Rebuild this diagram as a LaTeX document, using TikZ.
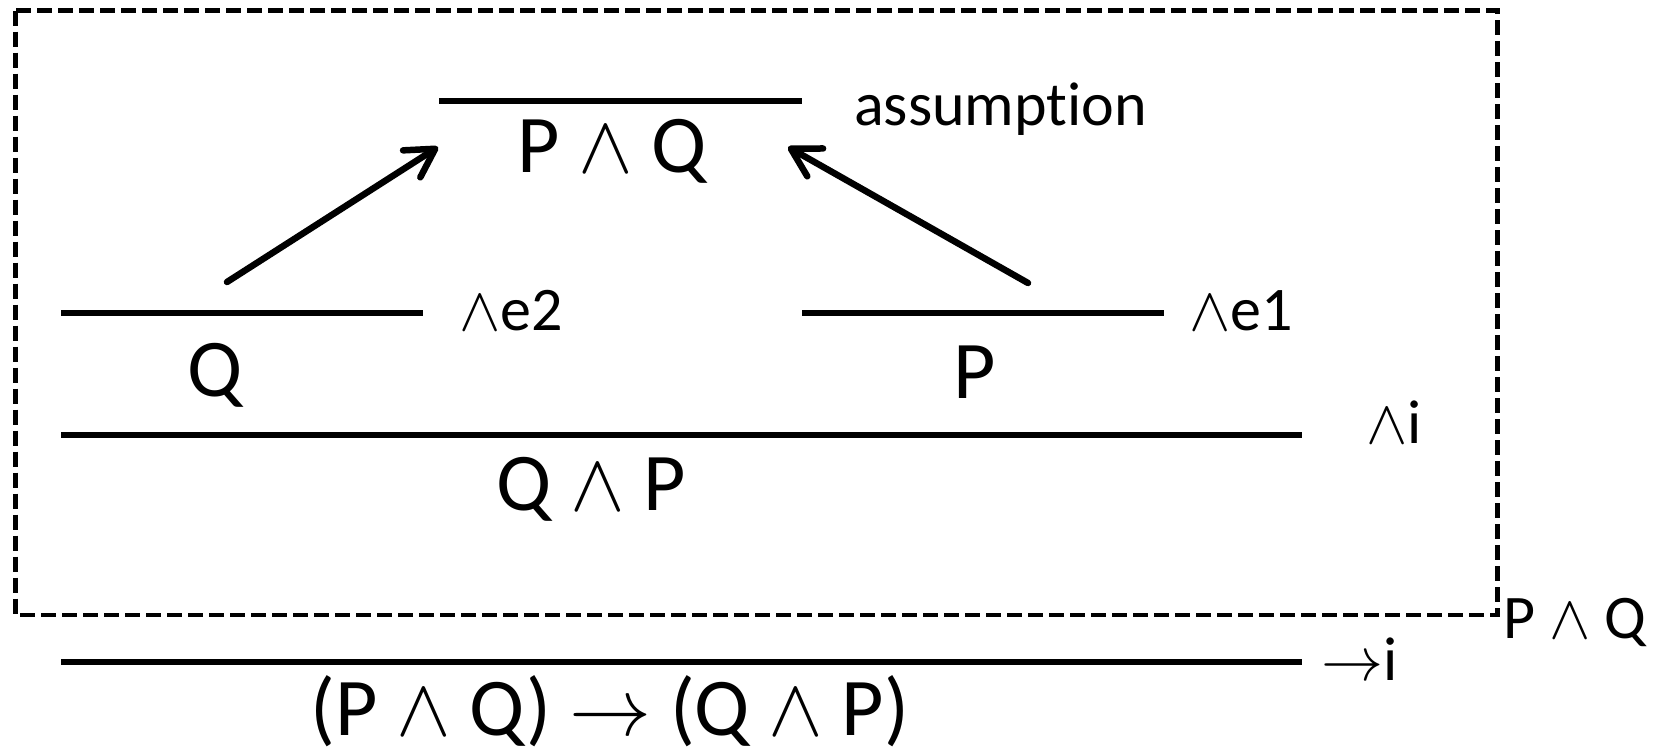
\documentclass[tikz,border=0pt]{standalone}
\usepackage{fix-cm}
\usepackage{fontspec}
\setmainfont{Carlito}[RawFeature={-liga;-clig;-calt;-dlig}]
\usetikzlibrary{arrows.meta}
\newcommand{\conj}{$\wedge$}
\newcommand{\impl}{$\rightarrow$}
\begin{document}
\begin{tikzpicture}[x=1pt, y=-1pt,
  bar/.style={line width=6pt},
  big/.style={font=\fontsize{82}{90}\selectfont, anchor=base, inner sep=0pt},
  rulename/.style={font=\fontsize{62}{68}\selectfont, anchor=base west, inner sep=0pt},
  uses/.style={-{Straight Barb[length=28pt, width=32pt, round]}, line width=6.5pt, line cap=round},
  assume/.style={dash pattern=on 15pt off 6pt, line width=4.5pt}]
  \useasboundingbox (0,0) rectangle (1657,750);
  % box around the assumed part
  \draw[assume] (15.5,10.5) rectangle (1497.5,615);
  % inference bars
  \draw[bar] (439,100.5) -- (802,100.5);
  \draw[bar] (61,312.5) -- (423,312.5);
  \draw[bar] (802,312.5) -- (1164,312.5);
  \draw[bar] (61,434.5) -- (1302,434.5);
  \draw[bar] (61,661.5) -- (1302,661.5);
  % formulas
  \node[big] (pq) at (612,172) {P \conj{} Q};
  \node[big] (q) at (215,396) {Q};
  \node[big] (p) at (975,398) {P};
  \node[big] (qp) at (591,510) {Q \conj{} P};
  \node[big] (goal) at (610,735) {(P \conj{} Q) \impl{} (Q \conj{} P)};
  % rule names
  \node[rulename] (asm) at (854,125) {assumption};
  \node[rulename] (ande2) at (459,330) {\conj e2};
  \node[rulename] (ande1) at (1189,330) {\conj e1};
  \node[rulename] (andi) at (1366,443) {\conj i};
  \node[rulename] (hyp) at (1503,638) {P \conj{} Q};
  \node[rulename] (impi) at (1321,680) {\impl i};
  % arrows back to the assumption
  \coordinate (ltail) at (227,282);
  \coordinate (ltip) at (438,147);
  \coordinate (rtail) at (1028,283);
  \coordinate (rtip) at (788,147);
  \draw[uses] (ltail) -- (ltip);
  \draw[uses] (rtail) -- (rtip);
\end{tikzpicture}
\end{document}
